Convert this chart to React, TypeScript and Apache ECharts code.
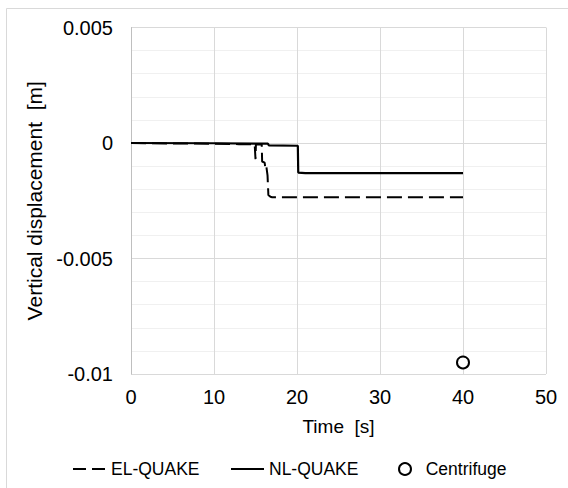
import React, { useEffect, useRef } from "react";
import * as echarts from "echarts";

const EL_T = [0, 5, 10, 13, 14.9, 15.0, 15.05, 15.75, 15.8, 16.1, 16.2, 16.3, 16.45, 16.55, 16.8, 17.0, 40];
const EL_V = [0, -0.00002, -0.00003, -0.00005, -0.00005, -0.0007, -0.00005, -0.00006, -0.0008, -0.00085, -0.0011, -0.001, -0.0014, -0.00225, -0.00233, -0.00235, -0.00235];

const NL_T = [0, 10, 16.5, 16.6, 20.1, 20.15, 21, 40];
const NL_V = [0, -0.00001, -0.00003, -0.0001, -0.00012, -0.00128, -0.0013, -0.0013];

const CF_T = [40];
const CF_V = [-0.0095];

const X_TICKS = [0, 10, 20, 30, 40, 50];
const Y_TICKS = [-0.01, -0.005, 0, 0.005];

const FONT = "Liberation Sans, Arial, sans-serif";

export default function App() {
  const ref = useRef<HTMLDivElement>(null);
  useEffect(() => {
    if (!ref.current) return;
    const chart = echarts.init(ref.current, null, { renderer: "svg" });
    const zip = (t: number[], v: number[]) => t.map((x, i) => [x, v[i]]);
    const legendBase = {
      top: 455,
      itemHeight: 14,
      textStyle: { fontFamily: FONT, fontSize: 17.5, color: "#000" },
      selectedMode: false,
    };
    chart.setOption({
      animation: false,
      backgroundColor: "#fff",
      graphic: [
        {
          type: "rect",
          shape: { x: 6.5, y: 8.5, width: 700, height: 700 },
          style: { fill: "none", stroke: "#d9d9d9", lineWidth: 1 },
          silent: true,
        },
      ],
      grid: { left: 131, top: 27.5, right: 22, bottom: 114, containLabel: false },
      legend: [
        {
          ...legendBase,
          left: 67,
          itemWidth: 33,
          data: ["EL-QUAKE"],
          itemStyle: { opacity: 0 },
          lineStyle: { color: "#000", width: 2, type: [13, 6] },
        },
        {
          ...legendBase,
          left: 225,
          itemWidth: 33,
          data: ["NL-QUAKE"],
          itemStyle: { opacity: 0 },
          lineStyle: { color: "#000", width: 2, type: "solid" },
        },
        {
          ...legendBase,
          left: 393,
          itemWidth: 12,
          itemHeight: 12,
          data: ["Centrifuge"],
          formatter: (n: string) => "  " + n,
        },
      ],
      xAxis: {
        type: "value",
        min: X_TICKS[0],
        max: X_TICKS[X_TICKS.length - 1],
        interval: 10,
        name: "Time  [s]",
        nameLocation: "middle",
        nameGap: 43,
        nameTextStyle: { fontFamily: FONT, fontSize: 19, color: "#000" },
        axisLine: { show: false },
        axisTick: { show: false },
        axisLabel: { fontFamily: FONT, fontSize: 20, color: "#000", margin: 13 },
        splitLine: { show: true, lineStyle: { color: "#d9d9d9", width: 1 } },
      },
      yAxis: {
        type: "value",
        min: Y_TICKS[0],
        max: Y_TICKS[Y_TICKS.length - 1],
        interval: 0.005,
        name: "Vertical displacement  [m]",
        nameLocation: "middle",
        nameGap: 83,
        nameTextStyle: { fontFamily: FONT, fontSize: 21, color: "#000" },
        axisLine: { show: true, onZero: false, lineStyle: { color: "#bfbfbf", width: 1 } },
        axisTick: { show: false },
        axisLabel: {
          fontFamily: FONT,
          fontSize: 20,
          color: "#000",
          margin: 18,
          formatter: (v: number) => String(parseFloat(v.toFixed(4))),
        },
        splitLine: { show: true, lineStyle: { color: "#d9d9d9", width: 1 } },
        minorTick: { show: false, splitNumber: 5 },
        minorSplitLine: { show: true, lineStyle: { color: "#f0f0f0", width: 1 } },
      },
      series: [
        {
          name: "EL-QUAKE",
          type: "line",
          data: zip(EL_T, EL_V),
          showSymbol: false,
          symbol: "none",
          lineStyle: { color: "#000", width: 2, type: [15, 6] },
          itemStyle: { color: "#000" },
          z: 3,
        },
        {
          name: "NL-QUAKE",
          type: "line",
          data: zip(NL_T, NL_V),
          showSymbol: false,
          symbol: "none",
          lineStyle: { color: "#000", width: 2.2 },
          itemStyle: { color: "#000" },
          z: 4,
        },
        {
          name: "Centrifuge",
          type: "scatter",
          data: zip(CF_T, CF_V),
          symbol: "circle",
          symbolSize: 12,
          itemStyle: { color: "#fff", borderColor: "#000", borderWidth: 2, opacity: 1 },
          z: 5,
        },
      ],
    });
    return () => chart.dispose();
  }, []);
  return (
    <div
      ref={ref}
      style={{ position: "absolute", left: 0, top: 0, width: 568, height: 488 }}
    />
  );
}
